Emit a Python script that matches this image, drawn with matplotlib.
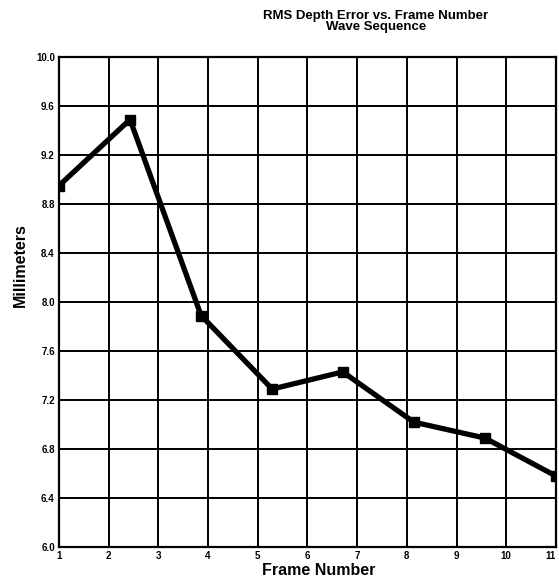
import matplotlib.pyplot as plt
import numpy as np

# Data
frames = [1.0, 2.43, 3.86, 5.29, 6.71, 8.14, 9.57, 11.0]
rms_error = [8.95, 9.49, 7.89, 7.29, 7.43, 7.02, 6.89, 6.58]
x_ticks = [1, 2, 3, 4, 5, 6, 7, 8, 9, 10, 11]
y_ticks = [6.0, 6.4, 6.8, 7.2, 7.6, 8.0, 8.4, 8.8, 9.2, 9.6, 10.0]

plt.rcParams['font.family'] = ['Liberation Sans', 'DejaVu Sans']

fig = plt.figure(figsize=(5.59, 5.82), dpi=100)
ax = fig.add_axes([0.1055, 0.060, 0.889, 0.842])

ax.plot(frames, rms_error, color='black', linewidth=3.8, marker='s',
        markersize=6.5, markerfacecolor='black', markeredgecolor='black',
        solid_joinstyle='miter', zorder=3)

ax.set_xlim(1, 11)
ax.set_ylim(6.0, 10.0)
ax.set_xticks(x_ticks)
ax.set_yticks(y_ticks)
ax.set_xticklabels([str(t) for t in x_ticks], fontsize=7, fontweight='bold')
ax.set_yticklabels([f'{t:.1f}' for t in y_ticks], fontsize=7, fontweight='bold')
ax.get_xticklabels()[-1].set_horizontalalignment('right')
ax.tick_params(length=3, width=1.2, direction='in', pad=3)
ax.grid(True, color='black', linewidth=1.4)
for s in ax.spines.values():
    s.set_linewidth(1.6)

ax.set_xlabel('Frame Number', fontsize=11.5, fontweight='bold')
ax.set_ylabel('Millimeters', fontsize=11.5, fontweight='bold')
ax.xaxis.set_label_coords(0.523, -0.032)
ax.yaxis.set_label_coords(-0.062, 0.576)

fig.text(0.672, 0.983, 'RMS Depth Error vs. Frame Number\nWave Sequence',
         ha='center', va='top', fontsize=9.5, fontweight='bold', linespacing=0.85)

plt.savefig('out.png', dpi=100)
